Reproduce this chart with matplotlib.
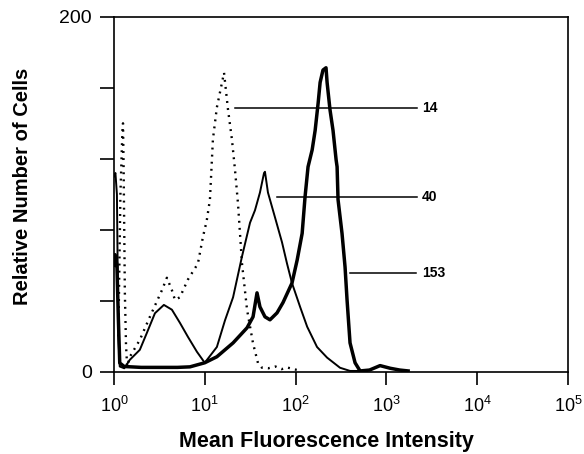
import numpy as np
import matplotlib.pyplot as plt

plt.rcParams['font.family'] = ['Liberation Sans', 'DejaVu Sans']

# dotted histogram, mean 14
x14 = [1.12, 1.18, 1.24, 1.26, 1.28, 1.30, 1.32, 1.36, 1.40, 1.50, 1.93, 2.49, 3.38, 3.83,
       4.35, 4.70, 5.33, 6.53, 8.41, 9.55, 10.5, 11.4, 12.3, 13.6, 16.3, 18.0, 19.9, 21.5,
       23.2, 25.7, 29.2, 34.0, 38.5, 42.6, 50, 60, 70, 80, 95, 105]
y14 = [20, 100, 135, 140, 115, 80, 45, 15, 3, 8.5, 18, 31, 46, 53,
       46, 40.5, 42, 52, 61, 76, 85, 97, 131, 149, 168.5, 148, 131, 114,
       95, 61, 35, 16, 5, 2.3, 2, 3, 1.5, 2.5, 1.5, 1]

# thin solid histogram, mean 40
x40 = [1.0, 1.04, 1.08, 1.10, 1.12, 1.16, 1.3, 1.50, 1.93, 2.31, 2.83, 3.55, 4.35, 5.33,
       6.53, 8.20, 10.0, 13.6, 16.7, 20.5, 25.7, 31.5, 35.7, 40.5, 44.9, 46.0, 49.6, 59.3,
       70.8, 80.4, 91.2, 112, 134, 172, 222, 308, 397, 500]
y40 = [110, 112, 100, 60, 20, 3, 2, 6.8, 12.4, 22, 33, 37.7, 35, 27.6,
       19.7, 11.3, 5.1, 14, 29, 42, 65, 84, 91, 101, 112, 112.7, 101, 87,
       73, 61, 50, 36.6, 25.4, 14, 8, 2.3, 0.5, 0.5]

# thick solid histogram, mean 153
x153 = [1.0, 1.03, 1.08, 1.12, 1.16, 1.3, 2, 5, 6.87, 10.0, 13.6, 20.5, 29.2, 34.0, 37.6,
        40.5, 46.0, 52.2, 62.4, 72.6, 91.2, 104, 118, 127, 137, 152, 164, 177, 186, 200,
        216, 222, 239, 258, 279, 286, 293, 324, 350, 368, 397, 451, 512, 650, 850, 1100,
        1400, 1730]
y153 = [60, 66, 60, 30, 5, 3, 2.5, 2.5, 2.8, 5.1, 8.5, 16.3, 24.8, 31, 44.5,
        36.6, 31, 29.3, 33.2, 39, 50, 63, 78, 98.6, 115.5, 125, 136, 151.5, 163, 170,
        171.3, 163, 147.6, 136, 119.4, 115.5, 97, 78, 59, 40.6, 16.3, 5.1, 0.5, 1, 3.5, 2,
        1, 0.5]

fig = plt.figure(figsize=(5.84, 4.54), dpi=100)
ax = fig.add_axes([0.195, 0.181, 0.778, 0.782])

ax.plot(x14, y14, color='black', lw=1.7, linestyle=(0, (0.8, 2.2)))
ax.plot(x40, y40, color='black', lw=1.4)
ax.plot(x153, y153, color='black', lw=2.5)

# mean labels with leader lines
ax.plot([21.5, 2174], [148.7, 148.7], color='black', lw=1.1)
ax.plot([62.4, 2174], [98.6, 98.6], color='black', lw=1.1)
ax.plot([397, 2118], [55.8, 55.8], color='black', lw=1.1)
ax.text(2466, 148.7, '14', va='center', ha='left', fontsize=10, fontweight='bold')
ax.text(2466, 98.6, '40', va='center', ha='left', fontsize=10, fontweight='bold')
ax.text(2466, 55.8, '153', va='center', ha='left', fontsize=10, fontweight='bold')

ax.set_xscale('log')
ax.set_xlim(1, 1e5)
ax.set_ylim(0, 200)
ax.set_xticks([1, 10, 100, 1e3, 1e4, 1e5])
ax.set_xticklabels([r'$\mathregular{10^{%d}}$' % i for i in range(6)], fontsize=13)
ax.xaxis.set_minor_locator(plt.NullLocator())
ax.set_yticks([0, 40, 80, 120, 160, 200])
ax.set_yticklabels(['0', '', '', '', '', '200'], fontsize=14)
ax.tick_params(axis='y', direction='out', length=10, width=1.2, pad=6)
ax.tick_params(axis='x', direction='out', length=9, width=1.2, pad=8)
for s in ax.spines.values():
    s.set_linewidth(1.2)

ax.set_xlabel('Mean Fluorescence Intensity', fontsize=15.5, fontweight='bold')
ax.set_ylabel('Relative Number of Cells', fontsize=14.5, fontweight='bold')
ax.xaxis.set_label_coords(0.467, -0.166)
ax.yaxis.set_label_coords(-0.181, 0.521)

fig.savefig('out.png', dpi=100)
